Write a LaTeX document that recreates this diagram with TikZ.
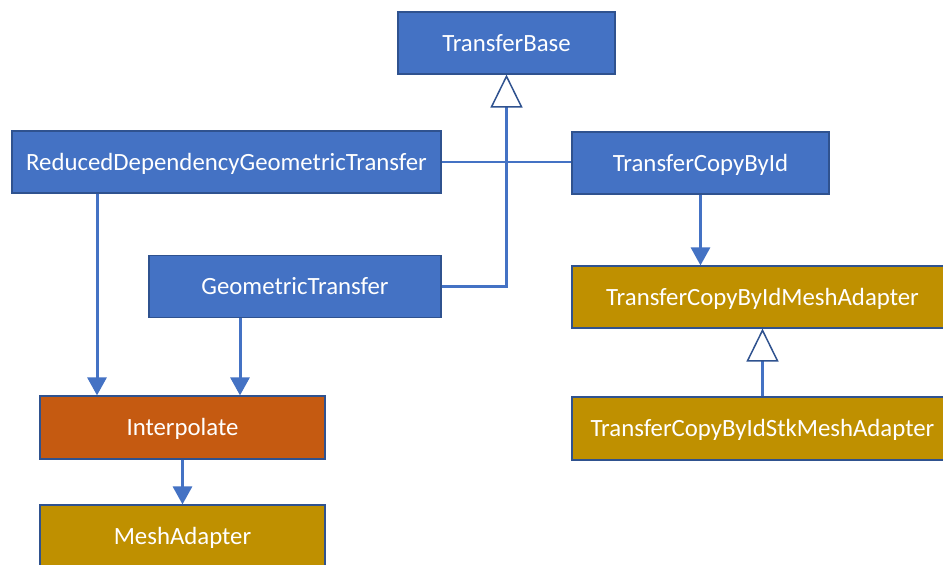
\documentclass[tikz,border=0pt]{standalone}
\usepackage{fontspec}
\setmainfont{Carlito}
\usetikzlibrary{arrows.meta}

\definecolor{boxblue}{HTML}{4472C4}
\definecolor{boxedge}{HTML}{2F528F}
\definecolor{boxorange}{HTML}{C55A11}
\definecolor{boxgold}{HTML}{BF9000}
\definecolor{wire}{HTML}{4472C4}

\tikzset{
  cls/.style={draw=boxedge, line width=1.2pt, text=white, inner sep=0pt,
    minimum height=62pt, text height=16pt, text depth=0pt,
    font=\fontsize{24.8}{29}\selectfont},
  bluebox/.style={cls, fill=boxblue},
  orangebox/.style={cls, fill=boxorange},
  goldbox/.style={cls, fill=boxgold},
  flow/.style={draw=wire, line width=3pt,
    -{Triangle[length=18pt, width=19pt, fill=wire, color=wire]}},
  inherit/.style={draw=wire, line width=2.2pt,
    -{Triangle[length=33pt, width=32pt, color=boxedge, fill=white, line width=1.5pt]}},
  plainwire/.style={draw=wire, line width=2.2pt},
}

\begin{document}
\begin{tikzpicture}[x=1pt, y=-1pt]
  \useasboundingbox (0,0) rectangle (943,565);
  \fill[white] (0,0) rectangle (943,565);
  \clip (0,0) rectangle (943,565);

  % class boxes
  \node[bluebox, minimum width=217pt] (base) at (506.5,43) {TransferBase};
  \node[bluebox, minimum width=429pt] (rdgt) at (226.5,162) {ReducedDependencyGeometricTransfer};
  \node[bluebox, minimum width=257pt] (tcbi) at (700.5,163) {TransferCopyById};
  \node[bluebox, minimum width=292pt] (geo) at (295,286.5) {GeometricTransfer};
  \node[orangebox, minimum width=285pt, minimum height=63pt] (interp) at (182.5,427.5) {Interpolate};
  \node[goldbox, minimum width=285pt] (mesh) at (182.5,536) {MeshAdapter};
  \node[goldbox, minimum width=381pt] (tcbima) at (762.5,297) {TransferCopyByIdMeshAdapter};
  \node[goldbox, minimum width=381pt, minimum height=63pt] (tcbisma) at (762.5,428.5) {TransferCopyByIdStkMeshAdapter};

  % inheritance from TransferBase
  \draw[plainwire] (rdgt.east) -- (rdgt.east -| tcbi.west);
  \draw[inherit] (geo.east) -| (base.south);

  % inheritance of the mesh adapters
  \draw[inherit] (tcbisma.north) -- (tcbima.south);

  % usage arrows
  \coordinate (rdgtfoot) at ([xshift=-129.5pt]rdgt.south);
  \coordinate (geofoot) at ([xshift=-55pt]geo.south);
  \draw[flow] (rdgtfoot) -- (rdgtfoot |- interp.north);
  \draw[flow] (geofoot) -- (geofoot |- interp.north);
  \draw[flow] (interp.south) -- (mesh.north);
  \draw[flow] (tcbi.south) -- (tcbi.south |- tcbima.north);
\end{tikzpicture}
\end{document}
